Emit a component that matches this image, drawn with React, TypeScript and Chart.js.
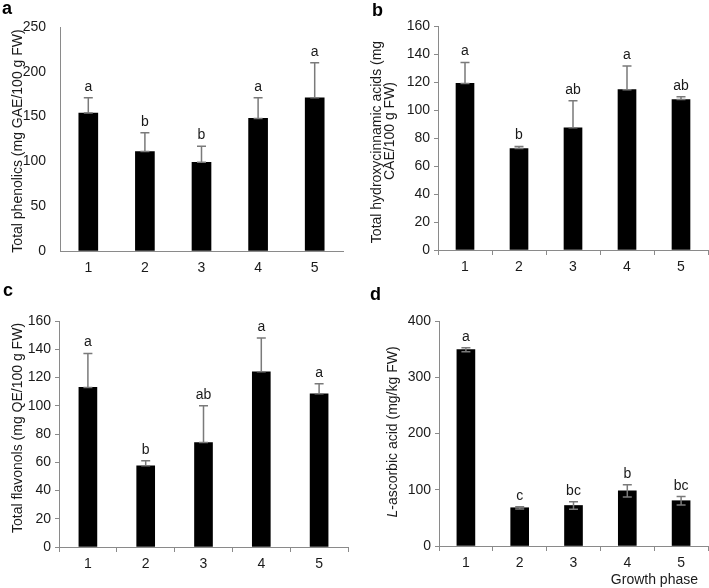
import React, { useEffect, useRef } from "react";
import { Chart, registerables } from "chart.js";

Chart.register(...registerables);

const phases = ["1", "2", "3", "4", "5"];

const phenolics = [154, 111, 99, 148, 171];
const phenolicsErr = [17, 21, 18, 23, 39];
const phenolicsLetters = ["a", "b", "b", "a", "a"];

const hydroxy = [119, 72.5, 87.3, 114.5, 107.5];
const hydroxyErr = [15, 1.5, 19.3, 17, 2];
const hydroxyLetters = ["a", "b", "ab", "a", "ab"];

const flavonols = [113, 57.5, 74, 124, 108.5];
const flavonolsErr = [24, 3.5, 26, 24, 7];
const flavonolsLetters = ["a", "b", "ab", "a", "a"];

const ascorbic = [349, 68, 72, 98, 80.5];
const ascorbicErr = [3.5, 2, 6.5, 11, 7.5];
const ascorbicLetters = ["a", "c", "bc", "b", "bc"];

const FONT = '"Liberation Sans", Arial, sans-serif';
const AXIS = "#8a8a8a";
const TXT = "#1a1a1a";

type TitlePart = { text: string; italic?: boolean };
type TitleLine = { parts: TitlePart[]; cx: number; cy: number };

type Spec = {
  left: number;
  top: number;
  w: number;
  h: number;
  yWidth: number;
  padTop: number;
  padRight: number;
  xHeight: number;
  values: number[];
  errs: number[];
  letters: string[];
  both: boolean;
  max: number;
  step: number;
  ticks: boolean;
  barW: number;
  panel: string;
  panelX: number;
  panelY: number;
  titles: TitleLine[];
  footer?: { text: string; x: number; y: number };
};

const specs: Spec[] = [
  {
    left: 0, top: 0, w: 355, h: 280,
    yWidth: 60, padTop: 27, padRight: 12, xHeight: 29,
    values: phenolics, errs: phenolicsErr, letters: phenolicsLetters, both: false,
    max: 250, step: 50, ticks: false, barW: 19,
    panel: "a", panelX: 2, panelY: 14,
    titles: [{ parts: [{ text: "Total phenolics (mg GAE/100 g FW)" }], cx: 18.5, cy: 141 }],
  },
  {
    left: 355, top: 0, w: 354, h: 280,
    yWidth: 83, padTop: 26, padRight: 1, xHeight: 30,
    values: hydroxy, errs: hydroxyErr, letters: hydroxyLetters, both: false,
    max: 160, step: 20, ticks: true, barW: 18,
    panel: "b", panelX: 17, panelY: 16,
    titles: [
      { parts: [{ text: "Total hydroxycinnamic acids (mg" }], cx: 22, cy: 142 },
      { parts: [{ text: "CAE/100 g FW)" }], cx: 35.5, cy: 131 },
    ],
  },
  {
    left: 0, top: 280, w: 355, h: 308,
    yWidth: 59, padTop: 41, padRight: 7, xHeight: 41,
    values: flavonols, errs: flavonolsErr, letters: flavonolsLetters, both: false,
    max: 160, step: 20, ticks: true, barW: 18,
    panel: "c", panelX: 3, panelY: 16,
    titles: [{ parts: [{ text: "Total flavonols (mg QE/100 g FW)" }], cx: 18, cy: 148 }],
  },
  {
    left: 355, top: 280, w: 354, h: 308,
    yWidth: 84, padTop: 41, padRight: 1, xHeight: 42,
    values: ascorbic, errs: ascorbicErr, letters: ascorbicLetters, both: true,
    max: 400, step: 100, ticks: true, barW: 18,
    panel: "d", panelX: 15, panelY: 20,
    titles: [
      { parts: [{ text: "L", italic: true }, { text: "-ascorbic acid (mg/kg FW)" }], cx: 38, cy: 152 },
    ],
    footer: { text: "Growth phase", x: 343, y: 304 },
  },
];

function makeAnnot(spec: Spec) {
  return {
    id: "annot" + spec.panel,
    afterDatasetsDraw(chart: any) {
      const ctx: CanvasRenderingContext2D = chart.ctx;
      const y = chart.scales.y;
      const meta = chart.getDatasetMeta(0);
      ctx.save();
      spec.values.forEach((v, i) => {
        const px = meta.data[i].x;
        const lo = spec.both ? v - spec.errs[i] : v;
        const hi = v + spec.errs[i];
        const yl = y.getPixelForValue(lo);
        const yh = y.getPixelForValue(hi);
        ctx.strokeStyle = "#7a7a7a";
        ctx.lineWidth = 1.5;
        ctx.beginPath();
        ctx.moveTo(px, yl);
        ctx.lineTo(px, yh);
        ctx.moveTo(px - 4.5, yh);
        ctx.lineTo(px + 4.5, yh);
        ctx.moveTo(px - 4.5, yl);
        ctx.lineTo(px + 4.5, yl);
        ctx.stroke();
        ctx.fillStyle = TXT;
        ctx.font = `14px ${FONT}`;
        ctx.textAlign = "center";
        ctx.textBaseline = "alphabetic";
        ctx.fillText(spec.letters[i], px, yh - 7);
      });
      // panel letter
      ctx.fillStyle = "#000";
      ctx.font = `bold 18px ${FONT}`;
      ctx.textAlign = "left";
      ctx.textBaseline = "alphabetic";
      ctx.fillText(spec.panel, spec.panelX, spec.panelY);
      // y titles
      spec.titles.forEach((line) => {
        ctx.save();
        ctx.translate(line.cx, line.cy);
        ctx.rotate(-Math.PI / 2);
        ctx.fillStyle = TXT;
        ctx.textBaseline = "middle";
        ctx.textAlign = "left";
        const widths = line.parts.map((p) => {
          ctx.font = `${p.italic ? "italic " : ""}14px ${FONT}`;
          return ctx.measureText(p.text).width;
        });
        const total = widths.reduce((a, b) => a + b, 0);
        let x = -total / 2;
        line.parts.forEach((p, k) => {
          ctx.font = `${p.italic ? "italic " : ""}14px ${FONT}`;
          ctx.fillText(p.text, x, 0);
          x += widths[k];
        });
        ctx.restore();
      });
      if (spec.footer) {
        ctx.fillStyle = TXT;
        ctx.font = `14px ${FONT}`;
        ctx.textAlign = "right";
        ctx.textBaseline = "alphabetic";
        ctx.fillText(spec.footer.text, spec.footer.x, spec.footer.y);
      }
      ctx.restore();
    },
  };
}

function Panel({ spec }: { spec: Spec }) {
  const ref = useRef<HTMLCanvasElement>(null);
  useEffect(() => {
    const tickFont = { family: FONT, size: 14 };
    const chart = new Chart(ref.current as HTMLCanvasElement, {
      type: "bar",
      data: {
        labels: phases,
        datasets: [
          {
            data: spec.values,
            backgroundColor: "#000000",
            borderWidth: 0,
            barThickness: spec.barW,
          },
        ],
      },
      options: {
        responsive: false,
        animation: false,
        devicePixelRatio: 1,
        layout: { padding: { left: 0, top: spec.padTop, right: spec.padRight, bottom: 0 } },
        plugins: { legend: { display: false }, tooltip: { enabled: false } },
        scales: {
          x: {
            offset: true,
            grid: {
              display: true,
              drawOnChartArea: false,
              drawTicks: spec.ticks,
              tickLength: 5,
              offset: true,
              color: AXIS,
              lineWidth: 1,
            },
            border: { display: true, color: AXIS, width: 1 },
            ticks: { color: TXT, font: tickFont, padding: spec.ticks ? 4 : 9, maxRotation: 0 },
            afterFit: (s: any) => {
              s.height = spec.xHeight;
            },
          },
          y: {
            min: 0,
            max: spec.max,
            grid: {
              display: true,
              drawOnChartArea: false,
              drawTicks: spec.ticks,
              tickLength: 4,
              color: AXIS,
              lineWidth: 1,
            },
            border: { display: true, color: AXIS, width: 1 },
            ticks: { color: TXT, font: tickFont, padding: spec.ticks ? 4 : 14, stepSize: spec.step },
            afterFit: (s: any) => {
              s.width = spec.yWidth;
            },
          },
        },
      },
      plugins: [makeAnnot(spec)],
    } as any);
    return () => chart.destroy();
  }, [spec]);
  return (
    <canvas
      ref={ref}
      width={spec.w}
      height={spec.h}
      style={{ position: "absolute", left: spec.left, top: spec.top, width: spec.w, height: spec.h }}
    />
  );
}

export default function App() {
  return (
    <div style={{ position: "absolute", left: 0, top: 0, width: 709, height: 588, background: "#fff" }}>
      {specs.map((s) => (
        <Panel key={s.panel} spec={s} />
      ))}
    </div>
  );
}
